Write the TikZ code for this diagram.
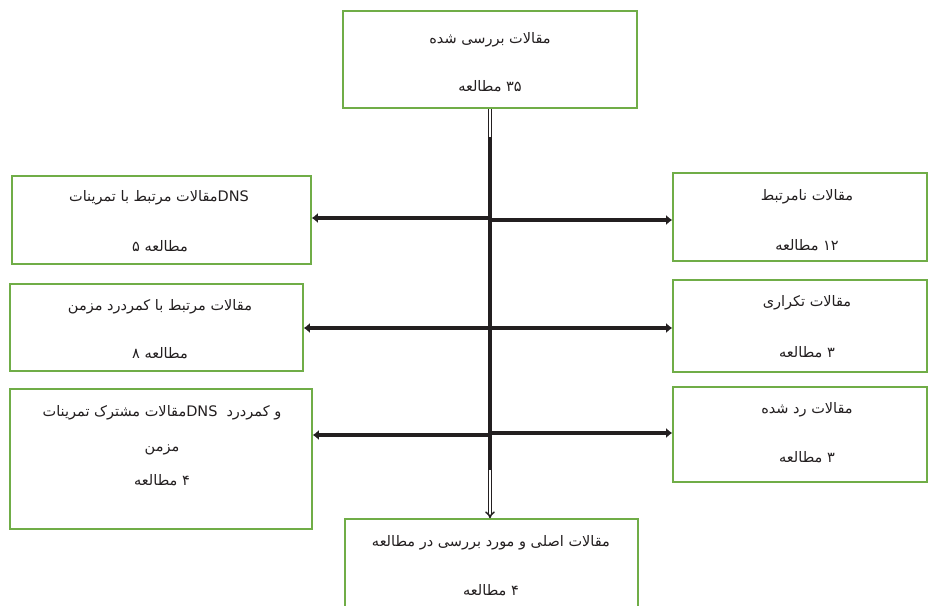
\documentclass[tikz,border=0pt]{standalone}
\usepackage{fontspec}
\newfontfamily\fa[Script=Arabic]{DejaVu Sans}
\TeXXeTstate=1
\usetikzlibrary{arrows.meta}
\definecolor{boxgreen}{HTML}{70AD47}
\definecolor{ink}{HTML}{231F20}
\tikzset{
  box/.style={draw=boxgreen, line width=1.6pt, inner sep=0pt},
  txt/.style={font=\fa\fontsize{14.5}{17}\selectfont, inner sep=0pt, text=ink},
  stem/.style={draw=ink, line width=4.5pt},
  branch/.style={draw=ink, line width=4pt, -{Latex[length=6pt,width=10pt]}},
  hollow/.style={draw=ink, double=white, double distance=1.6pt, line width=1.5pt}
}
\begin{document}
\begin{tikzpicture}[x=1pt,y=-1pt]
\path[use as bounding box, clip] (0,0) rectangle (928,605);
\fill[white] (0,0) rectangle (928,605);
% boxes
\node[box, minimum width=294pt, minimum height=97pt] (top) at (490,59.5) {};
\node[box, minimum width=299pt, minimum height=88pt] (L1) at (161.5,220) {};
\node[box, minimum width=293pt, minimum height=87pt] (L2) at (156.5,327.5) {};
\node[box, minimum width=302pt, minimum height=140pt] (L3) at (161,459) {};
\node[box, minimum width=254pt, minimum height=88pt] (R1) at (800,217) {};
\node[box, minimum width=254pt, minimum height=92pt] (R2) at (800,326) {};
\node[box, minimum width=254pt, minimum height=95pt] (R3) at (800,434.5) {};
\node[box, minimum width=293pt, minimum height=102pt] (bot) at (491.5,570) {};
% texts
\node[txt] (t1) at (490,40) {\beginR مقالات بررسی شده\endR};
\node[txt] (t2) at (490,86) {\beginR\beginL ۳۵\endL{} مطالعه\endR};
\node[txt] (l1a) at (159,198) {\beginR\beginL DNS\endL مقالات مرتبط با تمرینات\endR};
\node[txt] (l1b) at (160,246) {\beginR مطالعه \beginL ۵\endL\endR};
\node[txt] (l2a) at (160,307) {\beginR مقالات مرتبط با کمردرد مزمن\endR};
\node[txt] (l2b) at (160,353) {\beginR مطالعه \beginL ۸\endL\endR};
\node[txt] (l3a) at (162,413) {\beginR و کمردرد\hspace{9pt}\beginL DNS\endL مقالات مشترک تمرینات\endR};
\node[txt] (l3b) at (162,450) {\beginR مزمن\endR};
\node[txt] (l3c) at (162,480) {\beginR\beginL ۴\endL{} مطالعه\endR};
\node[txt] (r1a) at (807,197) {\beginR مقالات نامرتبط\endR};
\node[txt] (r1b) at (807,245) {\beginR\beginL ۱۲\endL{} مطالعه\endR};
\node[txt] (r2a) at (807,303) {\beginR مقالات تکراری\endR};
\node[txt] (r2b) at (807,352) {\beginR\beginL ۳\endL{} مطالعه\endR};
\node[txt] (r3a) at (807,410) {\beginR مقالات رد شده\endR};
\node[txt] (r3b) at (807,457) {\beginR\beginL ۳\endL{} مطالعه\endR};
\node[txt] (b1) at (491,543) {\beginR مقالات اصلی و مورد بررسی در مطالعه\endR};
\node[txt] (b2) at (491,590) {\beginR\beginL ۴\endL{} مطالعه\endR};
% central line
\coordinate (c1) at (490,137);
\coordinate (c2) at (490,470);
\coordinate (cl1) at (490,218);
\coordinate (cr1) at (490,220);
\coordinate (cl2) at (490,328);
\coordinate (cr2) at (490,328);
\coordinate (cl3) at (490,435);
\coordinate (cr3) at (490,433);
\draw[branch] (cl1) -- (cl1 -| L1.east);
\draw[branch] (cr1) -- (cr1 -| R1.west);
\draw[branch] (cl2) -- (cl2 -| L2.east);
\draw[branch] (cr2) -- (cr2 -| R2.west);
\draw[branch] (cl3) -- (cl3 -| L3.east);
\draw[branch] (cr3) -- (cr3 -| R3.west);
\draw[hollow] (top.south -| c1) -- (c1);
\draw[stem] (c1) -- (c2);
\draw[hollow, -{Implies[length=5pt,width=10pt]}] (c2) -- (c2 |- bot.north);
\end{tikzpicture}
\end{document}
